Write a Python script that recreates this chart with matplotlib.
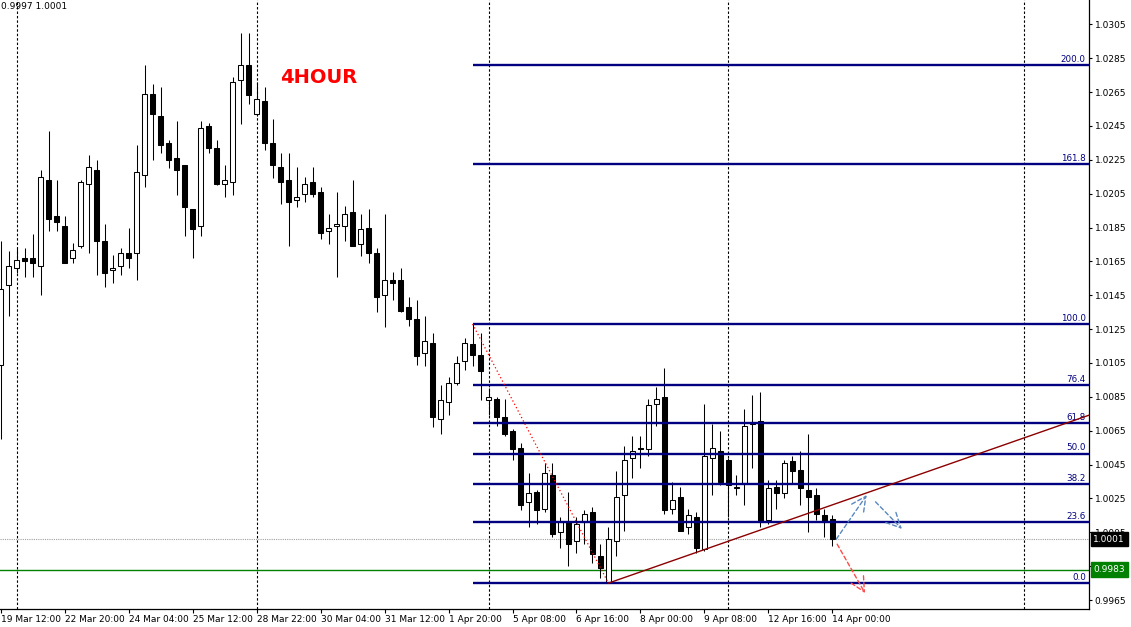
import matplotlib
matplotlib.use("Agg")
import matplotlib.pyplot as plt

plt.rcParams['font.family'] = ['DejaVu Sans']

# H4 candles, oldest first
opens = [1.0104, 1.0151, 1.0161, 1.0167, 1.0167, 1.0162, 1.0213, 1.0192, 1.0186, 1.0167,
         1.0174, 1.0211, 1.0219, 1.0177, 1.0160, 1.0162, 1.0170, 1.0170, 1.0216, 1.0264,
         1.0251, 1.0235, 1.0226, 1.0222, 1.0196, 1.0186, 1.0245, 1.0232, 1.0211, 1.0212,
         1.0272, 1.0281, 1.0252, 1.0260, 1.0235, 1.0221, 1.0213, 1.0201, 1.0205, 1.0212,
         1.0206, 1.0183, 1.0186, 1.0186, 1.0194, 1.0175, 1.0185, 1.0170, 1.0145, 1.0154,
         1.0154, 1.0138, 1.0131, 1.0111, 1.0117, 1.0072, 1.0082, 1.0093, 1.0106, 1.0116,
         1.0110, 1.0083, 1.0084, 1.0073, 1.0065, 1.0055, 1.0023, 1.0029, 1.0019, 1.0039,
         1.0005, 1.0011, 1.0000, 1.0011, 1.0017, 0.9991, 0.9975, 1.0000, 1.0027, 1.0049,
         1.0055, 1.0054, 1.0081, 1.0085, 1.0019, 1.0026, 1.0008, 1.0014, 0.9995, 1.0049,
         1.0053, 1.0048, 1.0031, 1.0034, 1.0069, 1.0071, 1.0012, 1.0032, 1.0028, 1.0047,
         1.0042, 1.0030, 1.0027, 1.0015, 1.0013]
highs = [1.0177, 1.0171, 1.0173, 1.0173, 1.0181, 1.0219, 1.0242, 1.0213, 1.0192, 1.0176,
         1.0213, 1.0228, 1.0225, 1.0187, 1.0169, 1.0173, 1.0185, 1.0234, 1.0281, 1.0270,
         1.0268, 1.0237, 1.0248, 1.0222, 1.0196, 1.0248, 1.0247, 1.0237, 1.0222, 1.0274,
         1.0300, 1.0300, 1.0271, 1.0268, 1.0249, 1.0229, 1.0229, 1.0221, 1.0215, 1.0221,
         1.0209, 1.0193, 1.0206, 1.0198, 1.0213, 1.0193, 1.0196, 1.0173, 1.0193, 1.0159,
         1.0161, 1.0144, 1.0142, 1.0133, 1.0123, 1.0092, 1.0097, 1.0109, 1.0120, 1.0128,
         1.0123, 1.0090, 1.0085, 1.0084, 1.0066, 1.0058, 1.0040, 1.0030, 1.0046, 1.0046,
         1.0014, 1.0029, 1.0014, 1.0018, 1.0020, 0.9998, 1.0008, 1.0041, 1.0056, 1.0062,
         1.0062, 1.0084, 1.0091, 1.0102, 1.0035, 1.0032, 1.0019, 1.0017, 1.0081, 1.0069,
         1.0065, 1.0049, 1.0039, 1.0078, 1.0086, 1.0088, 1.0036, 1.0036, 1.0048, 1.0050,
         1.0053, 1.0063, 1.0031, 1.0019, 1.0015]
lows = [1.0060, 1.0133, 1.0158, 1.0156, 1.0156, 1.0145, 1.0183, 1.0183, 1.0164, 1.0164,
        1.0173, 1.0170, 1.0157, 1.0150, 1.0152, 1.0157, 1.0161, 1.0154, 1.0209, 1.0225,
        1.0229, 1.0220, 1.0204, 1.0180, 1.0167, 1.0180, 1.0229, 1.0210, 1.0203, 1.0204,
        1.0246, 1.0258, 1.0251, 1.0231, 1.0214, 1.0199, 1.0174, 1.0197, 1.0200, 1.0203,
        1.0178, 1.0175, 1.0156, 1.0177, 1.0174, 1.0168, 1.0164, 1.0135, 1.0126, 1.0142,
        1.0135, 1.0127, 1.0104, 1.0103, 1.0067, 1.0063, 1.0074, 1.0092, 1.0101, 1.0103,
        1.0083, 1.0074, 1.0068, 1.0062, 1.0048, 1.0018, 1.0008, 1.0010, 1.0017, 1.0002,
        0.9996, 0.9985, 0.9993, 0.9998, 0.9987, 0.9978, 0.9975, 0.9991, 1.0006, 1.0037,
        1.0043, 1.0050, 1.0068, 1.0016, 1.0016, 1.0006, 1.0004, 0.9993, 0.9994, 1.0027,
        1.0033, 1.0014, 1.0027, 1.0021, 1.0043, 1.0008, 1.0010, 1.0019, 1.0025, 1.0034,
        1.0021, 1.0005, 1.0012, 1.0002, 0.9997]
closes = [1.0149, 1.0162, 1.0166, 1.0165, 1.0164, 1.0215, 1.0190, 1.0188, 1.0164, 1.0172,
          1.0212, 1.0221, 1.0177, 1.0158, 1.0161, 1.0170, 1.0167, 1.0218, 1.0264, 1.0252,
          1.0234, 1.0225, 1.0219, 1.0197, 1.0184, 1.0244, 1.0232, 1.0211, 1.0213, 1.0271,
          1.0281, 1.0263, 1.0261, 1.0235, 1.0222, 1.0212, 1.0200, 1.0203, 1.0211, 1.0205,
          1.0182, 1.0185, 1.0187, 1.0193, 1.0174, 1.0184, 1.0170, 1.0144, 1.0154, 1.0152,
          1.0136, 1.0131, 1.0109, 1.0118, 1.0073, 1.0083, 1.0093, 1.0105, 1.0117, 1.0110,
          1.0100, 1.0085, 1.0073, 1.0063, 1.0054, 1.0021, 1.0028, 1.0018, 1.0040, 1.0004,
          1.0011, 0.9998, 1.0010, 1.0016, 0.9992, 0.9984, 1.0001, 1.0026, 1.0048, 1.0053,
          1.0054, 1.0080, 1.0084, 1.0018, 1.0024, 1.0006, 1.0015, 0.9996, 1.0050, 1.0055,
          1.0035, 1.0033, 1.0032, 1.0068, 1.0070, 1.0011, 1.0031, 1.0028, 1.0046, 1.0041,
          1.0031, 1.0026, 1.0016, 1.0011, 1.0001]

time_labels = ["19 Mar 12:00", "22 Mar 20:00", "24 Mar 04:00", "25 Mar 12:00",
               "28 Mar 22:00", "30 Mar 04:00", "31 Mar 12:00", "1 Apr 20:00",
               "5 Apr 08:00", "6 Apr 16:00", "8 Apr 00:00", "9 Apr 08:00",
               "12 Apr 16:00", "14 Apr 00:00"]
week_seps = [2, 32, 61, 91, 128]

# fibo retracement: anchor bars and prices
fib_high = (59, 1.0128)
fib_low = (76, 0.9975)
fib_levels = [0.0, 23.6, 38.2, 50.0, 61.8, 76.4, 100.0, 161.8, 200.0]

trend_pts = [(76, 0.9975), (136, 1.0074)]
green_level = 0.9983

# hand drawn arrows (bar, price) -> (bar, price)
blue_arrows = [((104.5, 1.0001), (108.3, 1.0027)), ((109.4, 1.0023), (112.7, 1.0007))]
red_arrows = [((104.6, 0.9998), (108.1, 0.9969))]

W, H = 1131, 627
fig = plt.figure(figsize=(W / 100, H / 100), dpi=100)
ax = fig.add_axes([0, 18 / H, 1089 / W, 609 / H])
xl, xr = -0.1, 136.1
ax.set_xlim(xl, xr)
ax.set_ylim(0.99597, 1.03194)

n = len(opens)
xs = list(range(n))

# wicks then bodies
ax.vlines(xs, lows, highs, color='k', lw=0.75, zorder=3)
for i in xs:
  o, c = opens[i], closes[i]
  bull = c >= o
  ax.bar(i, max(abs(c - o), 0.000001), 0.58, bottom=min(o, c),
         facecolor='white' if bull else 'black', edgecolor='k', lw=0.75, zorder=4)

# period separators
for s in week_seps:
  ax.axvline(s, color='k', lw=0.8, ls=(0, (2.2, 1.8)), zorder=1)

# fibo
rng = fib_high[1] - fib_low[1]
for lv in fib_levels:
  p = fib_low[1] + rng * lv / 100.0
  ax.hlines(p, fib_high[0], xr, color='#000080', lw=1.7, zorder=5)
  ax.text(xr - 0.4, p + 0.00008, '%.1f' % lv, ha='right', va='bottom',
          color='#000080', fontsize=6.3, zorder=6)
ax.plot([fib_high[0], fib_low[0]], [fib_high[1], fib_low[1]], color='red',
        lw=0.9, ls=(0, (1, 2)), zorder=6)

# trend line (ray to the right)
(tx0, ty0), (tx1, ty1) = trend_pts
slope = (ty1 - ty0) / (tx1 - tx0)
ax.plot([tx0, xr], [ty0, ty0 + slope * (xr - tx0)], color='#8b0000', lw=1.0, zorder=6)

# bid line and horizontal level
ax.axhline(closes[-1], color='#a0a0a0', lw=0.8, ls=(0, (1, 1)), zorder=2)
ax.axhline(green_level, color='#008000', lw=1.0, zorder=2)

for (a, b) in blue_arrows:
  ax.annotate('', xy=b, xytext=a, zorder=7,
              arrowprops=dict(arrowstyle='->,head_length=0.8,head_width=0.4',
                              color='#5a87c0', lw=1.0, ls=(0, (3, 2)), mutation_scale=13,
                              shrinkA=0, shrinkB=0))
for (a, b) in red_arrows:
  ax.annotate('', xy=b, xytext=a, zorder=7,
              arrowprops=dict(arrowstyle='->,head_length=0.8,head_width=0.4',
                              color='#ff4a4a', lw=1.0, ls=(0, (3, 2)), mutation_scale=13,
                              shrinkA=0, shrinkB=0))

ax.text(0.293, 0.872, '4HOUR', transform=ax.transAxes, color='red', fontsize=14,
        fontweight='bold', ha='center', va='center')
ax.text(0.001, 0.997, '%.4f %.4f' % (lows[-1], closes[-1]), transform=ax.transAxes,
        fontsize=6.5, va='top', ha='left')

# axes look
for sp in ['left', 'top']:
  ax.spines[sp].set_visible(False)
for sp in ['right', 'bottom']:
  ax.spines[sp].set_linewidth(0.9)
ax.yaxis.tick_right()
yt = [0.9965 + 0.002 * k for k in range(18)]
ax.set_yticks(yt)
ax.set_yticklabels(['%.4f' % v for v in yt])
ax.tick_params(axis='y', direction='out', length=2.5, width=0.8, pad=1.5, labelsize=6.5)
ax.set_xticks([8 * k for k in range(len(time_labels))])
ax.set_xticklabels(time_labels, ha='left')
ax.tick_params(axis='x', direction='out', length=3, width=0.8, pad=1.5, labelsize=6.5)

# price tags on the scale (they cover the scale labels under them, as in the terminal)
tr = ax.get_yaxis_transform()
ax.text(1.004, closes[-1], '%.4f' % closes[-1], transform=tr, color='white', fontsize=6.5,
        ha='left', va='center', zorder=10, clip_on=False,
        bbox=dict(boxstyle='square,pad=0.3', fc='black', ec='black'))
ax.text(1.004, green_level, '%.4f' % green_level, transform=tr, color='white', fontsize=6.5,
        ha='left', va='center', zorder=10, clip_on=False,
        bbox=dict(boxstyle='square,pad=0.3', fc='#008000', ec='#008000'))

fig.savefig('out.png', dpi=100)
